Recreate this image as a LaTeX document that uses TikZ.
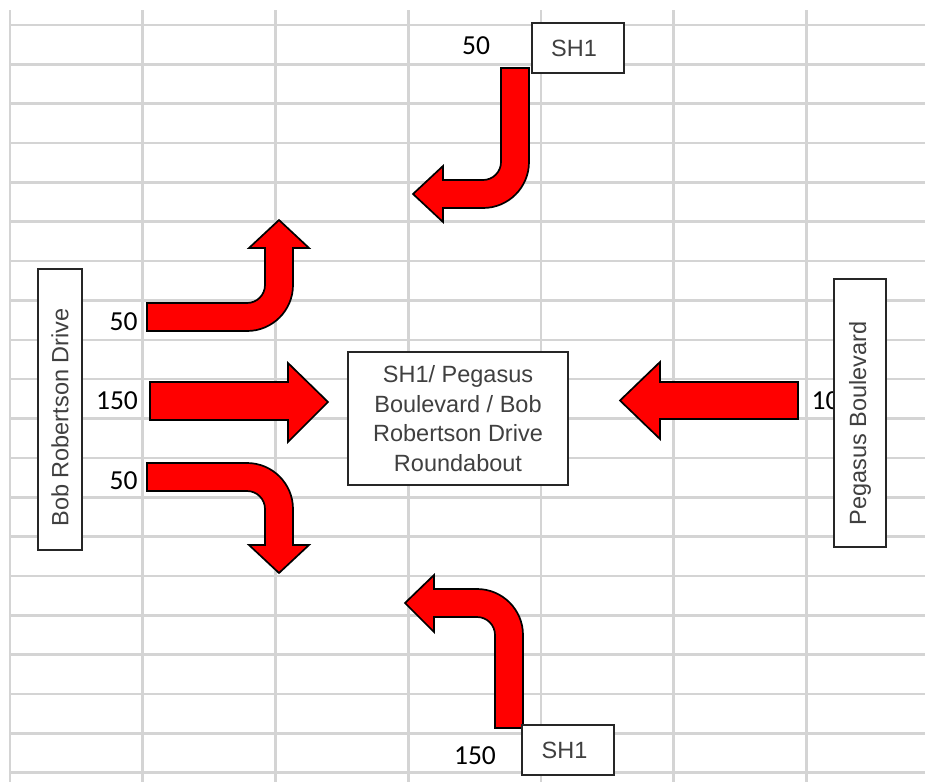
\documentclass[tikz,border=0pt]{standalone}
\usepackage{fontspec}
\newfontfamily\arialf{Liberation Sans}
\newfontfamily\calibrif{Carlito}
\definecolor{gridgray}{RGB}{212,212,212}
\definecolor{txtgray}{RGB}{64,64,64}
\begin{document}
\begin{tikzpicture}[x=1pt,y=-1pt,
  gridline/.style={gridgray, line width=2.6pt},
  redarrow/.style={fill=red, draw=black, line width=1.7pt, line join=miter},
  numlabel/.style={inner sep=0pt, text=black, font=\calibrif\fontsize{27.5}{30}\selectfont},
  roadbox/.style={draw=black!85, line width=1.1pt, fill=white, text=txtgray, inner sep=0pt, align=center,
    font=\arialf\fontsize{23.5}{29.5}\selectfont}
]
\useasboundingbox (0,0) rectangle (925,782);
\fill[white] (0,0) rectangle (925,782);
% grid
\foreach \x in {10,142.75,275.5,408.25,541,673.75,806.5}
  \draw[gridline] (\x,10) -- (\x,782);
\foreach \k in {0,...,19}
  \draw[gridline] (10,{25+39.35*\k}) -- (925,{25+39.35*\k});
% arrows
% from north, turning west
\draw[redarrow] (501,68) -- (529,68) -- (529,162) arc[start angle=0,end angle=90,radius=46]
  -- (443,208) -- (443,222) -- (413,194) -- (443,166) -- (443,180) -- (483,180)
  arc[start angle=90,end angle=0,radius=18] -- cycle;
% from west, turning north
\draw[redarrow] (147,303) -- (247,303) arc[start angle=90,end angle=0,radius=18]
  -- (265,248) -- (249,248) -- (279,220) -- (309,248) -- (293,248) -- (293,285)
  arc[start angle=0,end angle=90,radius=46] -- (147,331) -- cycle;
% from west, straight
\draw[redarrow] (150,382) -- (288,382) -- (288,363) -- (328,402) -- (288,442) -- (288,420) -- (150,420) -- cycle;
% from west, turning south
\draw[redarrow] (147,463) -- (247,463) arc[start angle=-90,end angle=0,radius=46]
  -- (293,545) -- (309,545) -- (279,573) -- (249,545) -- (265,545) -- (265,509)
  arc[start angle=0,end angle=-90,radius=18] -- (147,491) -- cycle;
% from east, straight
\draw[redarrow] (798,382) -- (660,382) -- (660,362) -- (620,400.5) -- (660,439) -- (660,419) -- (798,419) -- cycle;
% from south, turning west
\draw[redarrow] (495,728) -- (523,728) -- (523,635) arc[start angle=0,end angle=-90,radius=46]
  -- (434,589) -- (434,575) -- (405,603) -- (434,632) -- (434,617) -- (477,617)
  arc[start angle=-90,end angle=0,radius=18] -- cycle;
% numbers
\node[numlabel] (ntop) at (476,46) {50};
\node[numlabel] (nbot) at (475,755.5) {150};
\node[numlabel] (nleft1) at (123.5,322) {50};
\node[numlabel] (nleft2) at (117,401) {150};
\node[numlabel] (nleft3) at (123.5,480.5) {50};
\node[numlabel] (nright) at (832.5,401) {100};
% boxes
\node[roadbox, minimum width=92pt, minimum height=50pt] (sh1top) at (578,48) {SH1\hspace*{8pt}};
\node[roadbox, minimum width=92pt, minimum height=50pt] (sh1bot) at (568,750) {SH1\hspace*{7pt}};
\node[roadbox, rotate=90, minimum width=281pt, minimum height=44pt] (bob) at (60,409.5) {Bob Robertson Drive\hspace*{16pt}};
\node[roadbox, rotate=90, minimum width=268pt, minimum height=52pt] (peg) at (860,413) {Pegasus Boulevard\hspace*{21pt}};
\node[roadbox, minimum width=220pt, minimum height=133pt] (centre) at (458,418.5)
  {SH1/ Pegasus\\Boulevard / Bob\\Robertson Drive\\Roundabout};
\end{tikzpicture}
\end{document}
